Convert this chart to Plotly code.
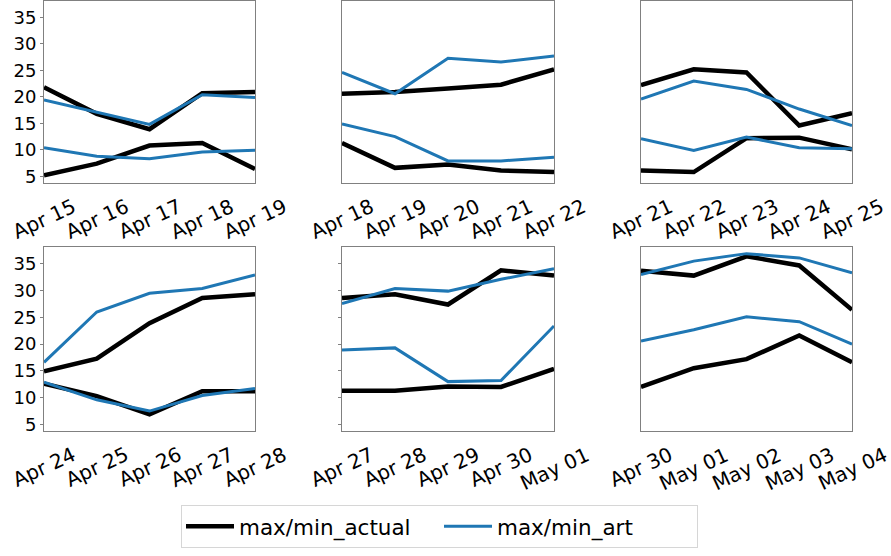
import plotly.graph_objects as go
import pandas as pd

# ---- data ----
start_dates = ["2021-04-15", "2021-04-18", "2021-04-21", "2021-04-24", "2021-04-27", "2021-04-30"]
tick_labels = [
    ["Apr 15", "Apr 16", "Apr 17", "Apr 18", "Apr 19"],
    ["Apr 18", "Apr 19", "Apr 20", "Apr 21", "Apr 22"],
    ["Apr 21", "Apr 22", "Apr 23", "Apr 24", "Apr 25"],
    ["Apr 24", "Apr 25", "Apr 26", "Apr 27", "Apr 28"],
    ["Apr 27", "Apr 28", "Apr 29", "Apr 30", "May 01"],
    ["Apr 30", "May 01", "May 02", "May 03", "May 04"],
]
max_actual = [
    [21.8, 16.8, 13.9, 20.7, 20.9],
    [20.6, 20.9, 21.6, 22.3, 25.2],
    [22.2, 25.2, 24.6, 14.6, 16.9],
    [14.9, 17.3, 23.9, 28.6, 29.3],
    [28.6, 29.3, 27.4, 33.8, 32.8],
    [33.7, 32.8, 36.4, 34.7, 26.4],
]
min_actual = [
    [5.2, 7.4, 10.8, 11.3, 6.4],
    [11.3, 6.6, 7.25, 6.1, 5.8],
    [6.1, 5.8, 12.2, 12.3, 10.1],
    [12.6, 10.3, 6.9, 11.2, 11.2],
    [11.3, 11.3, 12.1, 12.0, 15.4],
    [12.0, 15.5, 17.2, 21.6, 16.6],
]
max_art = [
    [19.4, 17.1, 14.8, 20.4, 19.9],
    [24.6, 20.6, 27.3, 26.6, 27.7],
    [19.6, 23.0, 21.4, 17.7, 14.6],
    [16.6, 26.0, 29.5, 30.4, 32.9],
    [27.6, 30.4, 29.9, 32.1, 34.1],
    [33.0, 35.5, 36.9, 36.1, 33.3],
]
min_art = [
    [10.4, 8.8, 8.3, 9.6, 9.9],
    [14.9, 12.5, 7.9, 7.9, 8.6],
    [12.1, 9.9, 12.4, 10.4, 10.2],
    [12.9, 9.6, 7.5, 10.4, 11.7],
    [18.9, 19.3, 13.0, 13.2, 23.4],
    [20.6, 22.7, 25.1, 24.2, 20.0],
]
y_ticks = [5, 10, 15, 20, 25, 30, 35]
series_names = ["max/min_actual", "max/min_art"]

# ---- layout helpers ----
W, H = 891, 556
BLACK = "#000000"
BLUE = "#1f77b4"

x_px = [(44, 255), (342, 554), (641, 852)]
y_px = [(1, 184), (249, 434)]

fig = go.Figure()
layout = dict(
    width=W, height=H,
    margin=dict(l=0, r=0, t=0, b=0),
    paper_bgcolor="white", plot_bgcolor="white",
    font=dict(family="DejaVu Sans", size=18, color="black"),
    showlegend=True,
)
annotations = []
ticks_visible = {0: True, 1: False, 2: False, 3: True, 4: True, 5: False}

for i in range(6):
    r, c = divmod(i, 3)
    dates = [d.strftime("%Y-%m-%d") for d in pd.date_range(start_dates[i], periods=5)]
    xa = "x" if i == 0 else f"x{i+1}"
    ya = "y" if i == 0 else f"y{i+1}"
    for vals, color, width, name, show in [
        (max_actual[i], BLACK, 4.5, series_names[0], i == 0),
        (min_actual[i], BLACK, 4.5, series_names[0], False),
        (max_art[i], BLUE, 3, series_names[1], i == 0),
        (min_art[i], BLUE, 3, series_names[1], False),
    ]:
        fig.add_trace(go.Scatter(
            x=dates, y=vals, mode="lines", xaxis=xa, yaxis=ya,
            line=dict(color=color, width=width),
            name=name, legendgroup=name, showlegend=show, hoverinfo="skip",
        ))
    x0, x1 = x_px[c]
    yt, yb = y_px[r]
    xkey = "xaxis" if i == 0 else f"xaxis{i+1}"
    ykey = "yaxis" if i == 0 else f"yaxis{i+1}"
    layout[xkey] = dict(
        domain=[x0 / W, x1 / W], anchor=ya, type="date",
        range=[dates[0], dates[-1]], showticklabels=False, ticks="",
        showgrid=False, zeroline=False, showline=True, linecolor="#808080",
        linewidth=1, mirror=True,
    )
    layout[ykey] = dict(
        domain=[(H - yb) / H, (H - yt) / H], anchor=xa, range=[3.8, 38.1],
        tickvals=y_ticks, showticklabels=(c == 0),
        ticks="outside" if ticks_visible[i] else "", ticklen=3, tickcolor="#808080",
        showgrid=False, zeroline=False, showline=True, linecolor="#808080",
        linewidth=1, mirror=True, tickfont=dict(size=18),
    )
    for d, lab in zip(dates, tick_labels[i]):
        annotations.append(dict(
            x=d, xref=xa, y=(H - (yb + 9)) / H, yref="paper",
            text=lab, showarrow=False, textangle=-25,
            xanchor="center", yanchor="top", font=dict(size=20),
        ))

layout["annotations"] = annotations
layout["legend"] = dict(
    orientation="h", x=181 / W, xanchor="left", y=(H - 530) / H, yanchor="middle",
    bordercolor="#d6d6d6", borderwidth=1, font=dict(size=21.5),
    itemwidth=48, entrywidth=195, bgcolor="white",
)
fig.update_layout(**layout)
fig.write_html(
    "out.html",
    config={"displayModeBar": False},
    post_script="document.body.style.margin='0';document.body.style.overflow='hidden';",
)
